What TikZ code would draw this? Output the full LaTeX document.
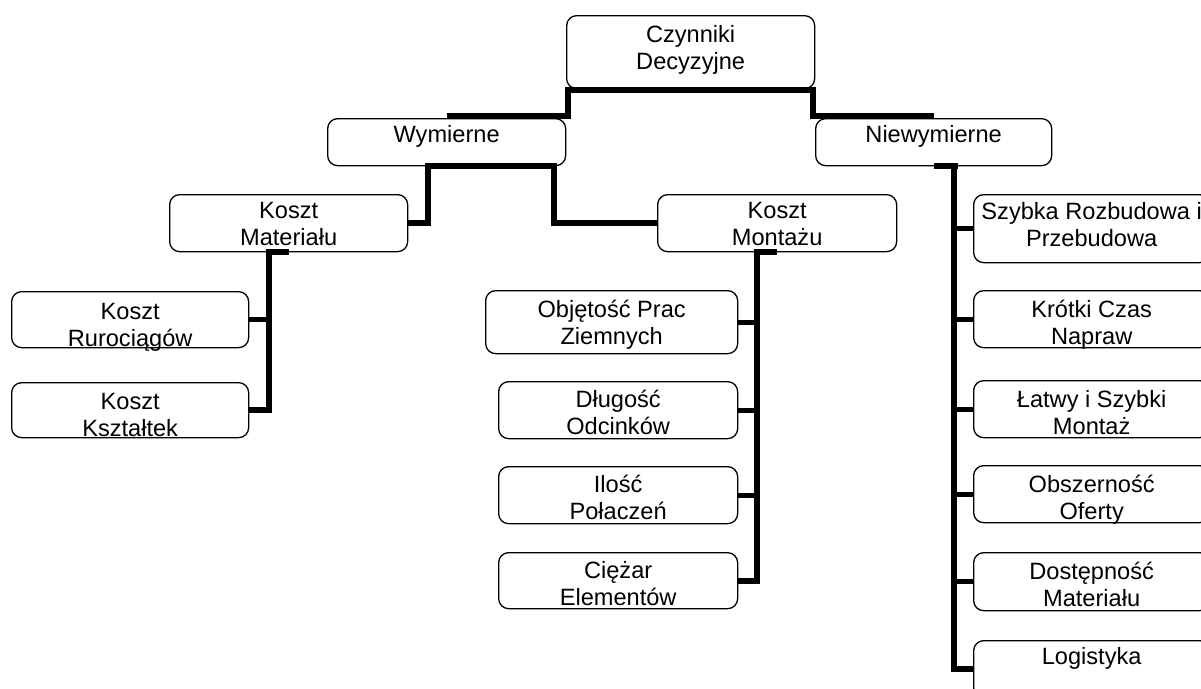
\documentclass[tikz,border=0pt]{standalone}
\usepackage{fontspec}
\setmainfont{Liberation Sans}
\begin{document}
\begin{tikzpicture}[x=1pt,y=-1pt,
  box/.style={draw=black,line width=1.3pt,rounded corners=10pt,inner sep=0pt,anchor=north west,fill=white},
  txt/.style={anchor=north,inner sep=0pt,align=center,font=\fontsize{23.6}{27.1}\selectfont},
  conn/.style={draw=black,line width=6pt},
  branch/.style={draw=black,line width=5pt}]
\fill[white] (0,0) rectangle (1201,688);
\useasboundingbox (0,0) rectangle (1201,688);
% boxes
\node[box,minimum width=248pt,minimum height=73pt] (top) at (566,15) {};
\node[box,minimum width=238pt,minimum height=47pt] (wym) at (327,118) {};
\node[box,minimum width=236pt,minimum height=47pt] (niew) at (815,118) {};
\node[box,minimum width=238pt,minimum height=57pt] (km) at (169,194) {};
\node[box,minimum width=239pt,minimum height=57pt] (kmon) at (657,194) {};
\node[box,minimum width=237pt,minimum height=56pt] (kr) at (11,291) {};
\node[box,minimum width=237pt,minimum height=55pt] (kk) at (11,382) {};
\node[box,minimum width=252pt,minimum height=63pt] (ob) at (485,290) {};
\node[box,minimum width=239pt,minimum height=57pt] (dl) at (498,381) {};
\node[box,minimum width=239pt,minimum height=57pt] (il) at (498,466) {};
\node[box,minimum width=239pt,minimum height=56pt] (ci) at (498,552) {};
\node[box,minimum width=236pt,minimum height=68pt] (sz) at (973,194) {};
\node[box,minimum width=236pt,minimum height=57pt] (kc) at (973,290) {};
\node[box,minimum width=236pt,minimum height=57pt] (lt) at (973,380) {};
\node[box,minimum width=236pt,minimum height=57pt] (os) at (973,465) {};
\node[box,minimum width=236pt,minimum height=58pt] (dp) at (973,552) {};
\node[box,minimum width=236pt,minimum height=57pt] (lg) at (973,640) {};
% connector coordinates
\coordinate (kv) at ([xshift=-20pt]km.south);
\coordinate (mv) at ([xshift=-20pt]kmon.south);
\coordinate (nv) at ([xshift=20pt]niew.south);
% connectors
\draw[conn] ([yshift=2pt]wym.north) -| ([xshift=2pt,yshift=-1pt]top.south west) -- ([xshift=-2pt,yshift=-1pt]top.south east) |- ([yshift=2pt]niew.north);
\draw[conn] (km.east) -| ([xshift=-19pt]wym.south) -- ([xshift=107pt]wym.south) |- (kmon.west);
\draw[conn] ([xshift=-23pt]km.south) -- (km.south);
\draw[conn] (kv) |- (kk.east);
\draw[branch] (kr.east) -- (kr.east -| kv);
\draw[conn] ([xshift=-23pt]kmon.south) -- (kmon.south);
\draw[conn] (mv) |- (ci.east);
\draw[branch] (ob.east) -- (ob.east -| mv);
\draw[branch] (dl.east) -- (dl.east -| mv);
\draw[branch] (il.east) -- (il.east -| mv);
\draw[conn] (niew.south) -- ([xshift=24pt]niew.south);
\draw[conn] (nv) |- (lg.west);
\draw[branch] (sz.west) -- (sz.west -| nv);
\draw[branch] (kc.west) -- (kc.west -| nv);
\draw[branch] (lt.west) -- (lt.west -| nv);
\draw[branch] (os.west) -- (os.west -| nv);
\draw[branch] (dp.west) -- (dp.west -| nv);
% texts
\node[txt] (topt) at ([yshift=-8pt]top.north) {\strut Czynniki\\\strut Decyzyjne};
\node[txt] (wymt) at ([yshift=-5pt]wym.north) {\strut Wymierne};
\node[txt] (niewt) at ([yshift=-5pt]niew.north) {\strut Niewymierne};
\node[txt] (kmt) at ([yshift=-5pt]km.north) {\strut Koszt\\\strut Materiału};
\node[txt] (kmont) at ([yshift=-5pt]kmon.north) {\strut Koszt\\\strut Montażu};
\node[txt] (krt) at ([yshift=-9pt]kr.north) {\strut Koszt\\\strut Rurociągów};
\node[txt] (kkt) at ([yshift=-8pt]kk.north) {\strut Koszt\\\strut Kształtek};
\node[txt] (obt) at ([yshift=-8pt]ob.north) {\strut Objętość Prac\\\strut Ziemnych};
\node[txt] (dlt) at ([yshift=-7pt]dl.north) {\strut Długość\\\strut Odcinków};
\node[txt] (ilt) at ([yshift=-7pt]il.north) {\strut Ilość\\\strut Połaczeń};
\node[txt] (cit) at ([yshift=-7pt]ci.north) {\strut Ciężar\\\strut Elementów};
\node[txt] (szt) at ([yshift=-6pt]sz.north) {\strut Szybka Rozbudowa i\\\strut Przebudowa};
\node[txt] (kct) at ([yshift=-8pt]kc.north) {\strut Krótki Czas\\\strut Napraw};
\node[txt] (ltt) at ([yshift=-8pt]lt.north) {\strut Łatwy i Szybki\\\strut Montaż};
\node[txt] (ost) at ([yshift=-8pt]os.north) {\strut Obszerność\\\strut Oferty};
\node[txt] (dpt) at ([yshift=-8pt]dp.north) {\strut Dostępność\\\strut Materiału};
\node[txt] (lgt) at ([yshift=-5pt]lg.north) {\strut Logistyka};
\end{tikzpicture}
\end{document}
